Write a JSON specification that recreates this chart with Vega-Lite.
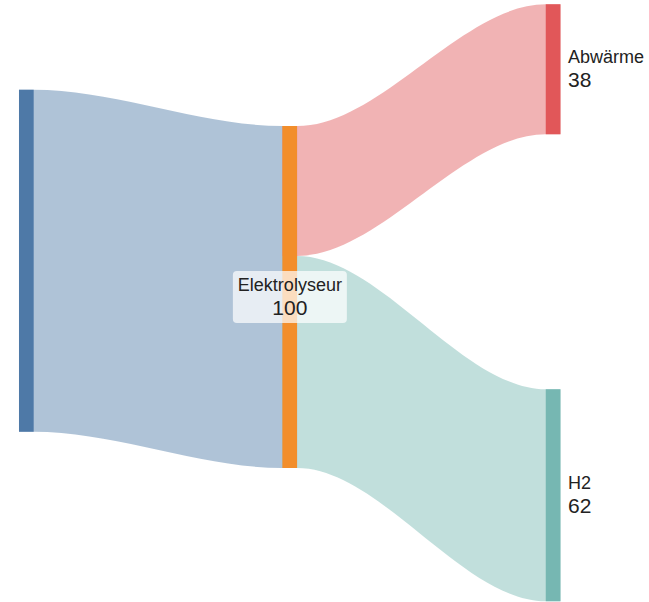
{
  "$schema": "https://vega.github.io/schema/vega-lite/v6.json",
  "width": 649,
  "height": 602,
  "autosize": {"type": "fit", "contains": "padding"},
  "padding": 0,
  "background": "white",
  "config": {"view": {"stroke": null}, "font": "Liberation Sans"},
  "datasets": {
    "nodes": [
      {"name": "Strom", "x0": 0, "x1": 0.0558, "top": 26.23, "value": 100},
      {"name": "Elektrolyseur", "x0": 1, "x1": 1.0558, "top": 36.84, "value": 100},
      {"name": "Abwärme", "x0": 2, "x1": 2.0558, "top": 1.26, "value": 38},
      {"name": "H2", "x0": 2, "x1": 2.0558, "top": 113.83, "value": 62}
    ],
    "links": [
      {"link": "Strom → Elektrolyseur", "carrier": "Strom", "x": 0, "top": 26.23, "value": 100},
      {"link": "Strom → Elektrolyseur", "carrier": "Strom", "x": 0.0558, "top": 26.23, "value": 100},
      {"link": "Strom → Elektrolyseur", "carrier": "Strom", "x": 1, "top": 36.84, "value": 100},
      {"link": "Strom → Elektrolyseur", "carrier": "Strom", "x": 1.0558, "top": 36.84, "value": 100},
      {"link": "Elektrolyseur → Abwärme", "carrier": "Abwärme", "x": 1, "top": 36.84, "value": 38},
      {"link": "Elektrolyseur → Abwärme", "carrier": "Abwärme", "x": 1.0558, "top": 36.84, "value": 38},
      {"link": "Elektrolyseur → Abwärme", "carrier": "Abwärme", "x": 2, "top": 1.26, "value": 38},
      {"link": "Elektrolyseur → Abwärme", "carrier": "Abwärme", "x": 2.0558, "top": 1.26, "value": 38},
      {"link": "Elektrolyseur → H2", "carrier": "H2", "x": 1, "top": 74.84, "value": 62},
      {"link": "Elektrolyseur → H2", "carrier": "H2", "x": 1.0558, "top": 74.84, "value": 62},
      {"link": "Elektrolyseur → H2", "carrier": "H2", "x": 2, "top": 113.83, "value": 62},
      {"link": "Elektrolyseur → H2", "carrier": "H2", "x": 2.0558, "top": 113.83, "value": 62}
    ]
  },
  "layer": [
    {
      "data": {"name": "links"},
      "transform": [{"calculate": "datum.top + datum.value", "as": "bottom"}],
      "mark": {"type": "area", "interpolate": "monotone", "opacity": 0.45},
      "encoding": {
        "x": {"field": "x", "type": "quantitative", "scale": {"domain": [-0.0721, 2.392], "nice": false, "zero": false}, "axis": null},
        "y": {"field": "top", "type": "quantitative", "stack": null, "scale": {"domain": [0, 176.02], "reverse": true, "nice": false, "zero": false}, "axis": null},
        "y2": {"field": "bottom"},
        "detail": {"field": "link"},
        "color": {
          "field": "carrier",
          "type": "nominal",
          "scale": {"domain": ["Strom", "Elektrolyseur", "Abwärme", "H2"], "range": ["#4e79a7", "#f28e2b", "#e15759", "#76b7b2"]},
          "legend": null
        }
      }
    },
    {
      "data": {"name": "nodes"},
      "transform": [{"calculate": "datum.top + datum.value", "as": "bottom"}],
      "mark": {"type": "rect", "opacity": 1},
      "encoding": {
        "x": {"field": "x0", "type": "quantitative"},
        "x2": {"field": "x1"},
        "y": {"field": "top", "type": "quantitative"},
        "y2": {"field": "bottom"},
        "color": {"field": "name", "type": "nominal", "legend": null}
      }
    },
    {
      "data": {"name": "nodes"},
      "transform": [
        {"filter": "datum.x0 == 1"},
        {"calculate": "datum.top + datum.value / 2", "as": "mid"}
      ],
      "mark": {
        "type": "point",
        "shape": "M-0.93,-0.456 L0.93,-0.456 Q1,-0.456 1,-0.386 L1,0.386 Q1,0.456 0.93,0.456 L-0.93,0.456 Q-1,0.456 -1,0.386 L-1,-0.386 Q-1,-0.456 -0.93,-0.456 Z",
        "size": 12996,
        "filled": true,
        "fill": "white",
        "fillOpacity": 0.7,
        "strokeWidth": 0,
        "opacity": 1,
        "xOffset": 7.5
      },
      "encoding": {
        "x": {"field": "x0", "type": "quantitative"},
        "y": {"field": "mid", "type": "quantitative"}
      }
    },
    {
      "data": {"name": "nodes"},
      "transform": [
        {"filter": "datum.x0 == 1"},
        {"calculate": "datum.top + datum.value / 2", "as": "mid"}
      ],
      "mark": {"type": "text", "align": "center", "baseline": "alphabetic", "fontSize": 18, "color": "#222", "dx": 7.5, "dy": -6.3},
      "encoding": {
        "x": {"field": "x0", "type": "quantitative"},
        "y": {"field": "mid", "type": "quantitative"},
        "text": {"field": "name", "type": "nominal"}
      }
    },
    {
      "data": {"name": "nodes"},
      "transform": [
        {"filter": "datum.x0 == 1"},
        {"calculate": "datum.top + datum.value / 2", "as": "mid"}
      ],
      "mark": {"type": "text", "align": "center", "baseline": "alphabetic", "fontSize": 21, "color": "#222", "dx": 7.5, "dy": 18},
      "encoding": {
        "x": {"field": "x0", "type": "quantitative"},
        "y": {"field": "mid", "type": "quantitative"},
        "text": {"field": "value", "type": "quantitative", "format": "d"}
      }
    },
    {
      "data": {"name": "nodes"},
      "transform": [
        {"filter": "datum.x0 == 2"},
        {"calculate": "datum.top + datum.value / 2", "as": "mid"}
      ],
      "mark": {"type": "text", "align": "left", "baseline": "alphabetic", "fontSize": 18, "color": "#222", "dx": 7.5, "dy": -6.3},
      "encoding": {
        "x": {"field": "x1", "type": "quantitative"},
        "y": {"field": "mid", "type": "quantitative"},
        "text": {"field": "name", "type": "nominal"}
      }
    },
    {
      "data": {"name": "nodes"},
      "transform": [
        {"filter": "datum.x0 == 2"},
        {"calculate": "datum.top + datum.value / 2", "as": "mid"}
      ],
      "mark": {"type": "text", "align": "left", "baseline": "alphabetic", "fontSize": 21, "color": "#222", "dx": 7.5, "dy": 18},
      "encoding": {
        "x": {"field": "x1", "type": "quantitative"},
        "y": {"field": "mid", "type": "quantitative"},
        "text": {"field": "value", "type": "quantitative", "format": "d"}
      }
    }
  ]
}
